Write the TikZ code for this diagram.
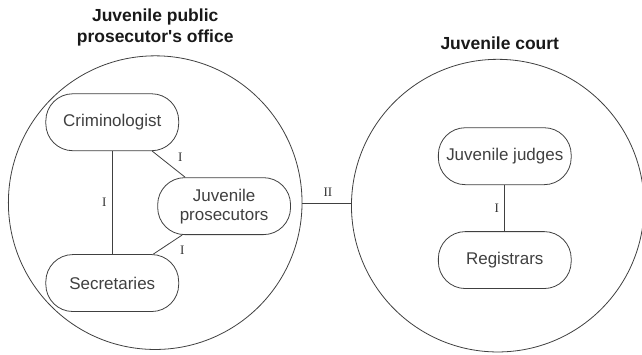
\documentclass[tikz,border=0pt]{standalone}
\usepackage{fontspec}
\setmainfont{Liberation Sans}
\newfontfamily\seriffont{Liberation Serif}
\usetikzlibrary{calc}
\begin{document}
\begin{tikzpicture}[x=1pt,y=-1pt,
  line width=0.8pt,
  every path/.style={draw=black!75},
  unit/.style={draw=black!75, rectangle, rounded corners=27pt, minimum width=133pt, minimum height=57pt,
    inner sep=0pt, align=center, text=black!75, font=\fontsize{17}{19}\selectfont},
  org/.style={draw=black!75, circle, minimum size=#1, inner sep=0pt},
  ttl/.style={align=center, font=\fontsize{17.5}{21}\selectfont\bfseries, text=black!90},
  lbl/.style={font=\seriffont\fontsize{13}{13}\selectfont, text=black!80, inner sep=0pt}]
\useasboundingbox (0,0) rectangle (642,354);
\fill[white] (0,0) rectangle (642,354);
\node[org=294pt] (left) at (155,202.5) {};
\node[org=293pt] (right) at (498,205.5) {};
\node[ttl] (t1) at (155,27) {Juvenile public\\prosecutor\textquotesingle s office};
\node[ttl] (t2) at (500,43) {Juvenile court};
\node[unit] (crim) at (112,122) {Criminologist};
\node[unit] (pros) at (224,206) {Juvenile\\prosecutors};
\node[unit] (sec) at (112,283) {Secretaries};
\node[unit] (judg) at (505,156) {Juvenile judges};
\node[unit] (reg) at (505,260) {Registrars};
\draw (crim) -- (sec);
\draw ([xshift=40pt]crim.south) -- ([xshift=-39pt]pros.north);
\draw ([xshift=41pt]sec.north) -- ([xshift=-42pt]pros.south);
\draw (judg) -- (reg);
\draw (left.east |- 0,203) coordinate (le) -- (right.west |- le);
\node[lbl] (l1) at (104,202) {I};
\node[lbl] (l2) at (180,157) {I};
\node[lbl] (l3) at (182,250) {I};
\node[lbl] (l4) at (497,208) {I};
\node[lbl] (l5) at (328,192) {II};
\end{tikzpicture}
\end{document}
